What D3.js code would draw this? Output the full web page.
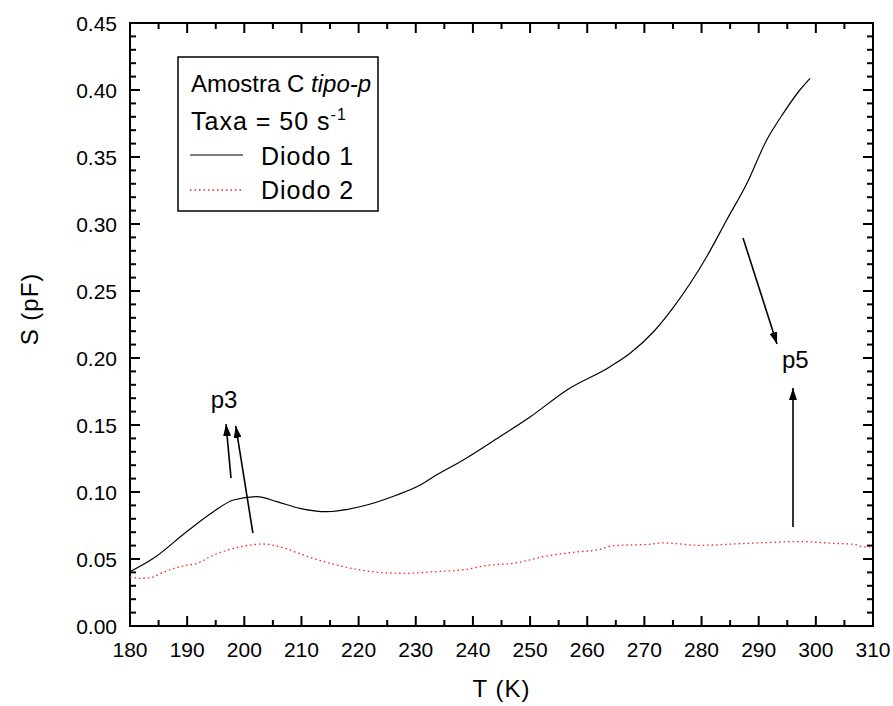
<!DOCTYPE html>
<html><head><meta charset="utf-8">
<script src="https://cdn.jsdelivr.net/npm/d3@7"></script>
<style>body{margin:0;background:#fff}svg{display:block}text{font-family:"Liberation Sans",Arial,sans-serif}</style>
</head><body>
<script>
const xTicks = [180,190,200,210,220,230,240,250,260,270,280,290,300,310];
const yTicks = [0.00,0.05,0.10,0.15,0.20,0.25,0.30,0.35,0.40,0.45];
const diodo1T = [180,184.1,189.9,194.6,198.1,202.2,205.7,209.7,214.4,220.2,226.7,230.7,233.1,238.3,244.7,250,256.4,264,267.5,271.6,275.1,280.9,284.4,287.9,291.4,294.3,297.2,299];
const diodo1S = [0.0405,0.0505,0.0704,0.0853,0.094,0.0965,0.0928,0.0878,0.0853,0.089,0.0978,0.105,0.1114,0.1239,0.1413,0.156,0.176,0.1935,0.2035,0.2196,0.238,0.2756,0.303,0.330,0.3627,0.3826,0.400,0.4087];
const diodo2T = [180,181.7,183.5,185.8,188.7,192.2,194,197.5,201,203.3,206.2,210.3,215,219.7,224.3,228.4,233.1,238.9,241.8,247.7,252.3,257.6,262.2,264.6,271,273.3,279.7,285.6,291,297.2,303.1,306.6,308.3,310];
const diodo2S = [0.0368,0.0356,0.036,0.040,0.0443,0.0475,0.0517,0.0572,0.0604,0.0612,0.0592,0.053,0.0468,0.0423,0.0398,0.0393,0.0405,0.0423,0.0448,0.0472,0.0517,0.055,0.0572,0.060,0.061,0.062,0.0602,0.0612,0.0622,0.063,0.0617,0.061,0.059,0.059];
const arrows = [
  {t1:197.67,s1:0.1104,t2:196.8,s2:0.1507},
  {t1:201.5,s1:0.0694,t2:198.5,s2:0.1493},
  {t1:287.26,s1:0.2896,t2:293.2,s2:0.2104},
  {t1:296.0,s1:0.0739,t2:296.0,s2:0.1776}
];
const labels = [{text:"p3",t:196.45,s:0.1627},{text:"p5",t:296.4,s:0.1925}];

const W=893,H=706;
const L=130,R=873,T=23,B=626;
const svg=d3.select("body").append("svg").attr("width",W).attr("height",H);
const x=d3.scaleLinear().domain([180,310]).range([L,R]);
const y=d3.scaleLinear().domain([0,0.45]).range([B,T]);

const minorX=d3.range(180,310.01,5), minorY=d3.range(0,0.4501,0.01);
function axisTicks(sc, vals, major, orient, pos){
  const g=svg.append("g").attr("stroke","#000").attr("stroke-width",2);
  vals.forEach(v=>{
    const isMaj = major.some(m=>Math.abs(m-v)<1e-6);
    const len = isMaj?10:6;
    const p=sc(v);
    if(orient==="bottom") g.append("line").attr("x1",p).attr("x2",p).attr("y1",pos).attr("y2",pos-len);
    if(orient==="top") g.append("line").attr("x1",p).attr("x2",p).attr("y1",pos).attr("y2",pos+len);
    if(orient==="left") g.append("line").attr("y1",p).attr("y2",p).attr("x1",pos).attr("x2",pos+len);
    if(orient==="right") g.append("line").attr("y1",p).attr("y2",p).attr("x1",pos).attr("x2",pos-len);
  });
}
axisTicks(x,minorX,xTicks,"bottom",B);
axisTicks(x,minorX,xTicks,"top",T);
axisTicks(y,minorY,yTicks,"left",L);
axisTicks(y,minorY,yTicks,"right",R);
svg.append("rect").attr("x",L).attr("y",T).attr("width",R-L).attr("height",B-T).attr("fill","none").attr("stroke","#000").attr("stroke-width",2);

// tick labels
svg.append("g").selectAll("text").data(xTicks).join("text")
  .attr("x",d=>x(d)).attr("y",B+31).attr("text-anchor","middle").attr("font-size",21).text(d=>d);
svg.append("g").selectAll("text").data(yTicks).join("text")
  .attr("x",L-13).attr("y",d=>y(d)+7.5).attr("text-anchor","end").attr("font-size",21).text(d=>d3.format(".2f")(d));

svg.append("text").attr("x",(L+R)/2).attr("y",697).attr("text-anchor","middle").attr("font-size",24).attr("letter-spacing",1).text("T (K)");
svg.append("text").attr("transform","translate(38,309) rotate(-90)").attr("text-anchor","middle").attr("font-size",24).attr("letter-spacing",1).text("S (pF)");

const line=d3.line().x(d=>x(d[0])).y(d=>y(d[1])).curve(d3.curveMonotoneX);
svg.append("path").datum(diodo2T.map((t,i)=>[t,diodo2S[i]])).attr("d",line)
  .attr("fill","none").attr("stroke","#ff2020").attr("stroke-width",1.3).attr("stroke-dasharray","1.5,3");
svg.append("path").datum(diodo1T.map((t,i)=>[t,diodo1S[i]])).attr("d",line)
  .attr("fill","none").attr("stroke","#000").attr("stroke-width",1.2);

// arrows
svg.append("defs").append("marker").attr("id","ah").attr("viewBox","0 0 12 8").attr("refX",12).attr("refY",4)
  .attr("markerWidth",12).attr("markerHeight",8).attr("markerUnits","userSpaceOnUse").attr("orient","auto")
  .append("path").attr("d","M0,0L12,4L0,8Z").attr("fill","#000");
svg.append("g").selectAll("line").data(arrows).join("line")
  .attr("x1",d=>x(d.t1)).attr("y1",d=>y(d.s1)).attr("x2",d=>x(d.t2)).attr("y2",d=>y(d.s2))
  .attr("stroke","#000").attr("stroke-width",1.6).attr("marker-end","url(#ah)");
svg.append("g").selectAll("text").data(labels).join("text")
  .attr("x",d=>x(d.t)).attr("y",d=>y(d.s)).attr("text-anchor","middle").attr("font-size",24).text(d=>d.text);

// legend
const lg=svg.append("g");
lg.append("rect").attr("x",178).attr("y",57).attr("width",200).attr("height",154).attr("fill","#fff").attr("stroke","#000").attr("stroke-width",1.5);
const t1=lg.append("text").attr("x",191).attr("y",92).attr("font-size",24);
t1.append("tspan").text("Amostra C ");
t1.append("tspan").attr("font-style","italic").text("tipo-p");
const t2=lg.append("text").attr("x",191).attr("y",130).attr("font-size",25).attr("letter-spacing",1);
t2.append("tspan").text("Taxa = 50 s");
t2.append("tspan").attr("font-size",16).attr("dy",-10).text("-1");
lg.append("line").attr("x1",190).attr("x2",243).attr("y1",155).attr("y2",155).attr("stroke","#000").attr("stroke-width",1.2);
lg.append("text").attr("x",261).attr("y",165).attr("font-size",25).attr("letter-spacing",1).text("Diodo 1");
lg.append("line").attr("x1",190).attr("x2",243).attr("y1",190).attr("y2",190).attr("stroke","#ff2020").attr("stroke-width",1.3).attr("stroke-dasharray","1.5,3");
lg.append("text").attr("x",261).attr("y",199).attr("font-size",25).attr("letter-spacing",1).text("Diodo 2");
</script>
</body></html>
